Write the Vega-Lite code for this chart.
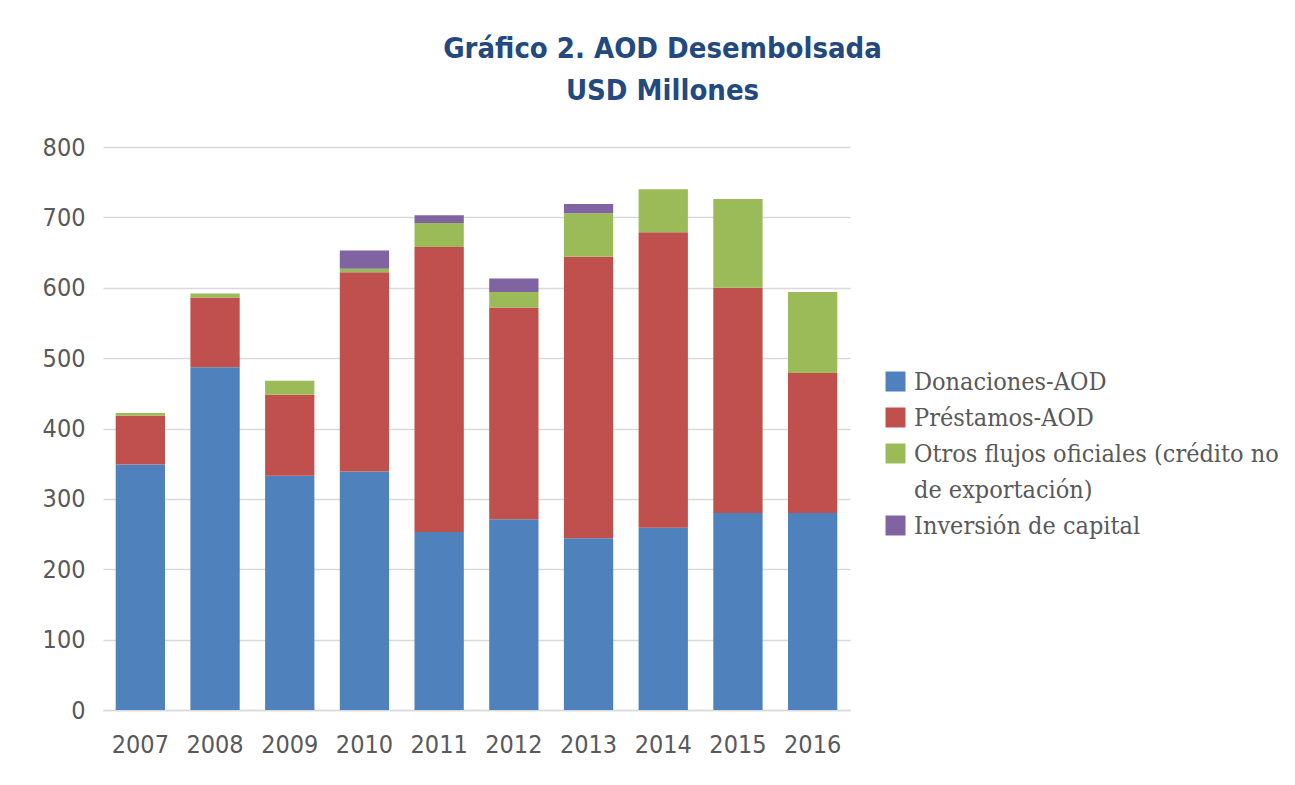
{
  "$schema": "https://vega.github.io/schema/vega-lite/v6.json",
  "autosize": "none",
  "width": 747,
  "height": 563,
  "padding": {"left": 103, "top": 147, "right": 445, "bottom": 75},
  "background": "white",
  "title": {
    "text": ["Gráfico 2. AOD Desembolsada", "USD Millones"],
    "font": "Liberation Sans Narrow, DejaVu Sans Condensed, sans-serif",
    "fontSize": 29,
    "fontWeight": "bold",
    "color": "#23497F",
    "anchor": "middle",
    "dx": 186,
    "lineHeight": 42,
    "offset": 29
  },
  "config": {
    "view": {"stroke": null},
    "axis": {
      "labelFont": "Liberation Sans Narrow, DejaVu Sans Condensed, sans-serif",
      "labelColor": "#595959",
      "labelFontSize": 25,
      "ticks": false,
      "title": null
    },
    "style": {"guide-label": {"lineHeight": 36}}
  },
  "data": {
    "values": [
      {"year": "2007", "serie": "Donaciones-AOD", "ord": 1, "valor": 349},
      {"year": "2007", "serie": "Préstamos-AOD", "ord": 2, "valor": 69},
      {"year": "2007", "serie": "Otros flujos oficiales (crédito no de exportación)", "ord": 3, "valor": 4},
      {"year": "2008", "serie": "Donaciones-AOD", "ord": 1, "valor": 487},
      {"year": "2008", "serie": "Préstamos-AOD", "ord": 2, "valor": 99},
      {"year": "2008", "serie": "Otros flujos oficiales (crédito no de exportación)", "ord": 3, "valor": 6},
      {"year": "2009", "serie": "Donaciones-AOD", "ord": 1, "valor": 333},
      {"year": "2009", "serie": "Préstamos-AOD", "ord": 2, "valor": 115},
      {"year": "2009", "serie": "Otros flujos oficiales (crédito no de exportación)", "ord": 3, "valor": 20},
      {"year": "2010", "serie": "Donaciones-AOD", "ord": 1, "valor": 339},
      {"year": "2010", "serie": "Préstamos-AOD", "ord": 2, "valor": 283},
      {"year": "2010", "serie": "Otros flujos oficiales (crédito no de exportación)", "ord": 3, "valor": 5},
      {"year": "2010", "serie": "Inversión de capital", "ord": 4, "valor": 26},
      {"year": "2011", "serie": "Donaciones-AOD", "ord": 1, "valor": 253},
      {"year": "2011", "serie": "Préstamos-AOD", "ord": 2, "valor": 405},
      {"year": "2011", "serie": "Otros flujos oficiales (crédito no de exportación)", "ord": 3, "valor": 34},
      {"year": "2011", "serie": "Inversión de capital", "ord": 4, "valor": 11},
      {"year": "2012", "serie": "Donaciones-AOD", "ord": 1, "valor": 271},
      {"year": "2012", "serie": "Préstamos-AOD", "ord": 2, "valor": 301},
      {"year": "2012", "serie": "Otros flujos oficiales (crédito no de exportación)", "ord": 3, "valor": 22},
      {"year": "2012", "serie": "Inversión de capital", "ord": 4, "valor": 19},
      {"year": "2013", "serie": "Donaciones-AOD", "ord": 1, "valor": 244},
      {"year": "2013", "serie": "Préstamos-AOD", "ord": 2, "valor": 400},
      {"year": "2013", "serie": "Otros flujos oficiales (crédito no de exportación)", "ord": 3, "valor": 62},
      {"year": "2013", "serie": "Inversión de capital", "ord": 4, "valor": 13},
      {"year": "2014", "serie": "Donaciones-AOD", "ord": 1, "valor": 259},
      {"year": "2014", "serie": "Préstamos-AOD", "ord": 2, "valor": 420},
      {"year": "2014", "serie": "Otros flujos oficiales (crédito no de exportación)", "ord": 3, "valor": 61},
      {"year": "2015", "serie": "Donaciones-AOD", "ord": 1, "valor": 280},
      {"year": "2015", "serie": "Préstamos-AOD", "ord": 2, "valor": 320},
      {"year": "2015", "serie": "Otros flujos oficiales (crédito no de exportación)", "ord": 3, "valor": 126},
      {"year": "2016", "serie": "Donaciones-AOD", "ord": 1, "valor": 280},
      {"year": "2016", "serie": "Préstamos-AOD", "ord": 2, "valor": 199},
      {"year": "2016", "serie": "Otros flujos oficiales (crédito no de exportación)", "ord": 3, "valor": 115}
    ]
  },
  "mark": {"type": "bar"},
  "encoding": {
    "x": {
      "field": "year",
      "type": "nominal",
      "scale": {"paddingInner": 0.34, "paddingOuter": 0.17},
      "axis": {
        "labelAngle": 0,
        "domain": true,
        "domainColor": "#d9d9d9",
        "domainWidth": 1.5,
        "grid": false,
        "labelPadding": 22
      }
    },
    "y": {
      "field": "valor",
      "type": "quantitative",
      "aggregate": "sum",
      "stack": "zero",
      "scale": {"domain": [0, 800]},
      "axis": {
        "values": [0, 100, 200, 300, 400, 500, 600, 700, 800],
        "domain": false,
        "grid": true,
        "gridColor": "#d9d9d9",
        "gridWidth": 1.5,
        "labelPadding": 18
      }
    },
    "color": {
      "field": "serie",
      "type": "nominal",
      "scale": {
        "domain": ["Donaciones-AOD", "Préstamos-AOD", "Otros flujos oficiales (crédito no de exportación)", "Inversión de capital"],
        "range": ["#4F81BD", "#C0504D", "#9BBB59", "#8064A2"]
      },
      "legend": {
        "orient": "none",
        "legendX": 780,
        "legendY": 222,
        "title": null,
        "symbolType": "square",
        "symbolSize": 400,
        "symbolStrokeWidth": 0,
        "labelFont": "DejaVu Serif Condensed, DejaVu Serif, serif",
        "labelFontSize": 25,
        "labelColor": "#595959",
        "labelLimit": 600,
        "labelOffset": 6,
        "rowPadding": 10,
        "labelExpr": "datum.label == 'Otros flujos oficiales (crédito no de exportación)' ? ['Otros flujos oficiales (crédito no', 'de exportación)'] : datum.label"
      }
    },
    "order": {"field": "ord", "type": "quantitative"}
  }
}
